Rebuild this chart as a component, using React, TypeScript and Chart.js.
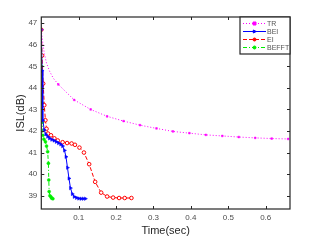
import React, { useEffect, useRef } from "react";
import { Chart, registerables } from "chart.js";
Chart.register(...registerables);

const seriesNames = ["TR", "BEI", "EI", "BEFFT"];

const trX = [0, 0.004, 0.008, 0.014, 0.022, 0.032, 0.0455, 0.088, 0.132, 0.176, 0.22, 0.264, 0.308, 0.352, 0.396, 0.44, 0.484, 0.528, 0.572, 0.616, 0.66];
const trY = [46.7, 46.1, 45.6, 45.15, 44.78, 44.45, 44.16, 43.44, 43.0, 42.68, 42.46, 42.27, 42.12, 41.98, 41.9, 41.82, 41.77, 41.72, 41.68, 41.65, 41.63];
const trMarked = [0, 0.0455, 0.088, 0.132, 0.176, 0.22, 0.264, 0.308, 0.352, 0.396, 0.44, 0.484, 0.528, 0.572, 0.616, 0.66];

const beiX = [0, 0.002, 0.004, 0.008, 0.012, 0.017, 0.022, 0.028, 0.034, 0.04, 0.046, 0.052, 0.057, 0.062, 0.066, 0.07, 0.074, 0.078, 0.083, 0.088, 0.094, 0.1, 0.106, 0.112, 0.118];
const beiY = [46.7, 44.8, 42.5, 42.05, 41.85, 41.74, 41.66, 41.6, 41.56, 41.5, 41.44, 41.38, 41.3, 41.1, 40.8, 40.3, 39.8, 39.35, 39.08, 38.95, 38.9, 38.87, 38.86, 38.86, 38.86];

const eiX = [0, 0.002, 0.005, 0.008, 0.011, 0.014, 0.018, 0.026, 0.035, 0.044, 0.057, 0.069, 0.081, 0.09, 0.102, 0.114, 0.128, 0.144, 0.16, 0.176, 0.192, 0.208, 0.223, 0.241];
const eiY = [46.7, 45.5, 44.2, 43.2, 42.5, 42.1, 41.88, 41.8, 41.66, 41.56, 41.48, 41.44, 41.42, 41.36, 41.23, 41.0, 40.46, 39.64, 39.14, 38.96, 38.91, 38.89, 38.89, 38.89];

const befftX = [0, 0.001, 0.002, 0.003, 0.004, 0.007, 0.011, 0.014, 0.017, 0.019, 0.02, 0.021, 0.023, 0.026, 0.028, 0.031];
const befftY = [46.7, 45.0, 43.3, 42.4, 41.8, 41.62, 41.5, 41.3, 41.04, 40.5, 39.73, 39.19, 39.0, 38.94, 38.88, 38.86];

const xTicks = [0.1, 0.2, 0.3, 0.4, 0.5, 0.6];
const yTicks = [39, 40, 41, 42, 43, 44, 45, 46, 47];
const xLabel = "Time(sec)";
const yLabel = "ISL(dB)";

const FONT = "'Liberation Sans', Arial, Helvetica, sans-serif";
const AXIS = "#262626";
const TEXT = "#4d4d4d";

const toPts = (xs: number[], ys: number[]) => xs.map((x, i) => ({ x, y: ys[i] }));

function drawMarker(ctx: CanvasRenderingContext2D, style: string, x: number, y: number, r: number, color: string, fill: string) {
  ctx.save();
  ctx.fillStyle = fill;
  ctx.strokeStyle = color;
  ctx.lineWidth = 1;
  ctx.beginPath();
  if (style === "rect") {
    ctx.rect(x - r, y - r, 2 * r, 2 * r);
  } else if (style === "triangle") {
    ctx.moveTo(x + r * 1.2, y);
    ctx.lineTo(x - r * 0.8, y - r);
    ctx.lineTo(x - r * 0.8, y + r);
    ctx.closePath();
  } else {
    ctx.arc(x, y, r, 0, Math.PI * 2);
  }
  ctx.fill();
  ctx.stroke();
  ctx.restore();
}

const framePlugin = {
  id: "frame",
  afterDraw(chart: any) {
    const { ctx, chartArea: a, scales } = chart;
    ctx.save();
    ctx.strokeStyle = AXIS;
    ctx.lineWidth = 1.2;
    ctx.strokeRect(a.left, a.top, a.right - a.left, a.bottom - a.top);
    ctx.lineWidth = 1;
    const tl = 3;
    ctx.beginPath();
    scales.x.ticks.forEach((t: any) => {
      const px = Math.round(scales.x.getPixelForValue(t.value)) + 0.5;
      ctx.moveTo(px, a.bottom);
      ctx.lineTo(px, a.bottom - tl);
      ctx.moveTo(px, a.top);
      ctx.lineTo(px, a.top + tl);
    });
    scales.y.ticks.forEach((t: any) => {
      const py = Math.round(scales.y.getPixelForValue(t.value)) + 0.5;
      ctx.moveTo(a.left, py);
      ctx.lineTo(a.left + tl, py);
      ctx.moveTo(a.right, py);
      ctx.lineTo(a.right - tl, py);
    });
    ctx.stroke();

    // legend
    const bw = 50, bh = 37;
    const bx = a.right - bw, by = a.top;
    ctx.fillStyle = "#ffffff";
    ctx.fillRect(bx, by, bw, bh);
    ctx.strokeStyle = AXIS;
    ctx.lineWidth = 1.2;
    ctx.strokeRect(bx, by, bw, bh);
    chart.data.datasets.forEach((ds: any, i: number) => {
      const y = by + 6.5 + i * 8;
      const x0 = bx + 3, x1 = bx + 26;
      ctx.save();
      ctx.strokeStyle = ds.borderColor;
      ctx.lineWidth = 1;
      ctx.setLineDash(ds.borderDash || []);
      ctx.beginPath();
      ctx.moveTo(x0, y);
      ctx.lineTo(x1, y);
      ctx.stroke();
      ctx.restore();
      const mx = (x0 + x1) / 2;
      drawMarker(ctx, ds.pointStyle, mx, y, 1.5, ds.borderColor, ds.borderColor);
      ctx.fillStyle = "#555555";
      ctx.font = `7px ${FONT}`;
      ctx.textBaseline = "middle";
      ctx.textAlign = "left";
      ctx.fillText(ds.label, x1 + 1, y + 0.5);
    });
    ctx.restore();
  },
};

export default function App() {
  const ref = useRef<HTMLCanvasElement>(null);
  useEffect(() => {
    document.body.style.margin = "0";
    const chart = new Chart(ref.current!, {
      type: "line",
      data: {
        datasets: [
          {
            label: seriesNames[0],
            data: toPts(trX, trY),
            borderColor: "#ff00ff",
            backgroundColor: "#ff00ff",
            borderWidth: 1,
            borderDash: [1, 2],
            pointStyle: "rect",
            pointRadius: (c: any) => (trMarked.includes(trX[c.dataIndex]) ? 1.2 : 0),
            pointBorderWidth: 0.5,
          },
          {
            label: seriesNames[1],
            data: toPts(beiX, beiY),
            borderColor: "#0000ff",
            backgroundColor: "#0000ff",
            borderWidth: 1,
            pointStyle: "triangle",
            pointRotation: 90,
            pointRadius: 2,
            pointBorderWidth: 0.5,
          },
          {
            label: seriesNames[2],
            data: toPts(eiX, eiY),
            borderColor: "#ff0000",
            backgroundColor: "#ffffff",
            borderWidth: 1,
            borderDash: [4, 2],
            pointStyle: "circle",
            pointRadius: 1.8,
            pointBorderWidth: 1,
          },
          {
            label: seriesNames[3],
            data: toPts(befftX, befftY),
            borderColor: "#00ee00",
            backgroundColor: "#00ee00",
            borderWidth: 1,
            borderDash: [4, 2, 1, 2],
            pointStyle: "circle",
            pointRadius: 1.5,
            pointBorderWidth: 0.5,
          },
        ] as any,
      },
      options: {
        animation: false,
        responsive: false,
        layout: { padding: { left: 0, top: 17, right: 31, bottom: 0 } },
        plugins: { legend: { display: false }, tooltip: { enabled: false } },
        scales: {
          x: {
            type: "linear",
            min: 0,
            max: 0.665,
            afterBuildTicks: (s: any) => {
              s.ticks = xTicks.map((v) => ({ value: v }));
            },
            afterFit: (s: any) => {
              s.height = 32;
            },
            grid: { display: false, drawTicks: false },
            border: { display: false },
            ticks: {
              padding: 4,
              color: TEXT,
              font: { size: 8, family: FONT },
              maxRotation: 0,
              callback: (v: any) => Number(v).toFixed(1),
            },
            title: {
              display: true,
              text: xLabel,
              color: "#262626",
              font: { size: 11, family: FONT },
              padding: { top: 0, bottom: 3 },
            },
          },
          y: {
            type: "linear",
            min: 38.38,
            max: 47.29,
            afterBuildTicks: (s: any) => {
              s.ticks = yTicks.map((v) => ({ value: v }));
            },
            afterFit: (s: any) => {
              s.width = 41.3;
            },
            grid: { display: false, drawTicks: false },
            border: { display: false },
            ticks: {
              padding: 4,
              color: TEXT,
              font: { size: 8, family: FONT },
              callback: (v: any) => String(v),
            },
            title: {
              display: true,
              text: yLabel,
              color: "#262626",
              font: { size: 11, family: FONT },
              padding: { top: 14, bottom: 0 },
            },
          },
        },
      },
      plugins: [framePlugin],
    });
    return () => chart.destroy();
  }, []);
  return (
    <div style={{ width: 321, height: 241 }}>
      <canvas ref={ref} width={321} height={241} />
    </div>
  );
}
